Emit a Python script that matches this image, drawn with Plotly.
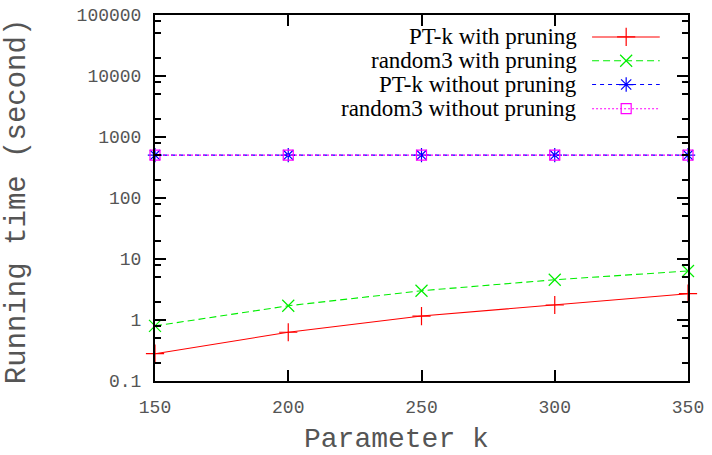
import plotly.graph_objects as go

k_values = [150, 200, 250, 300, 350]
ptk_pruning = [0.28, 0.63, 1.16, 1.76, 2.7]
random3_pruning = [0.80, 1.71, 3.02, 4.57, 6.36]
ptk_no_pruning = [505, 505, 505, 505, 505]
random3_no_pruning = [505, 505, 505, 505, 505]

series_names = ["PT-k with pruning", "random3 with pruning",
                "PT-k without pruning", "random3 without pruning"]
y_tickvals = [0.1, 1, 10, 100, 1000, 10000, 100000]
y_ticktext = ["0.1", "1", "10", "100", "1000", "10000", "100000"]
y_minor = [m * 10 ** e for e in range(-1, 5) for m in (2, 5, 8)]
x_tickvals = [150, 200, 250, 300, 350]

colors = ["#ff0000", "#00ee00", "#0000ff", "#ff00ff"]
dashes = ["solid", "7px,4px", "4px,4px", "2px,2px"]
symbols = ["cross-thin-open", "x-thin-open", "asterisk-open", "square-open"]
sizes = [13, 12, 12, 10]
data = [ptk_pruning, random3_pruning, ptk_no_pruning, random3_no_pruning]

fig = go.Figure()
for name, ys, c, d, s, sz in zip(series_names, data, colors, dashes, symbols, sizes):
    fig.add_trace(go.Scatter(
        x=k_values, y=ys, mode="lines+markers", name=name,
        line=dict(color=c, width=1.1, dash=d),
        marker=dict(symbol=s, size=sz, color=c, line=dict(color=c, width=1.2)),
        showlegend=False, cliponaxis=False))

# custom gnuplot-style legend (text on left, sample on right)
leg_rows = [0.940, 0.875, 0.810, 0.744]
text_x = 0.795
line_x0, line_x1, mark_x = 0.820, 0.947, 0.884
for name, c, d, s, sz, ry in zip(series_names, colors, dashes, symbols, sizes, leg_rows):
    fig.add_annotation(xref="paper", yref="paper", x=text_x, y=ry, text=name,
                       showarrow=False, xanchor="right", yanchor="middle",
                       font=dict(family="Liberation Serif", size=23, color="black"))
    fig.add_shape(type="line", xref="paper", yref="paper", x0=line_x0, x1=line_x1,
                  y0=ry, y1=ry, line=dict(color=c, width=1.1, dash=d))
    fig.add_trace(go.Scatter(x=[mark_x], y=[ry], xaxis="x2", yaxis="y2", mode="markers",
                             marker=dict(symbol=s, size=sz, color=c, line=dict(color=c, width=1.2)),
                             showlegend=False, hoverinfo="skip"))

tick_font = dict(family="Liberation Mono", size=18, color="#555555")
title_font_x = dict(family="Liberation Mono", size=28, color="#555555")
title_font_y = dict(family="Liberation Mono", size=29, color="#555555")

fig.add_annotation(xref="paper", yref="paper", x=0.454, y=-0.161, text="Parameter k",
                   showarrow=False, xanchor="center", yanchor="middle", font=title_font_x)
fig.add_annotation(xref="paper", yref="paper", x=-0.258, y=0.49, text="Running time (second)",
                   showarrow=False, xanchor="center", yanchor="middle", textangle=-90,
                   font=title_font_y)

fig.update_layout(
    width=712, height=455,
    margin=dict(l=155, r=24, t=15, b=74),
    paper_bgcolor="white", plot_bgcolor="white",
    xaxis=dict(range=[150, 350], tickvals=x_tickvals, ticks="inside", ticklen=11,
               tickwidth=1.5, tickcolor="black", mirror="allticks", showline=True,
               linecolor="black", linewidth=2, showgrid=False, zeroline=False,
               tickfont=tick_font, ticklabelstandoff=8, automargin=False),
    yaxis=dict(type="log", range=[-1, 5], tickvals=y_tickvals, ticktext=y_ticktext,
               ticks="inside", ticklen=11, tickwidth=1.5, tickcolor="black",
               mirror="allticks", showline=True, linecolor="black", linewidth=2,
               showgrid=False, zeroline=False, tickfont=tick_font, ticklabelstandoff=8,
               automargin=False,
               minor=dict(tickmode="array", tickvals=y_minor, ticks="inside", ticklen=6,
                          tickwidth=1.5, tickcolor="black", showgrid=False)),
    xaxis2=dict(range=[0, 1], overlaying="x", visible=False, fixedrange=True),
    yaxis2=dict(range=[0, 1], overlaying="y", visible=False, fixedrange=True),
)

fig.write_html("out.html")
